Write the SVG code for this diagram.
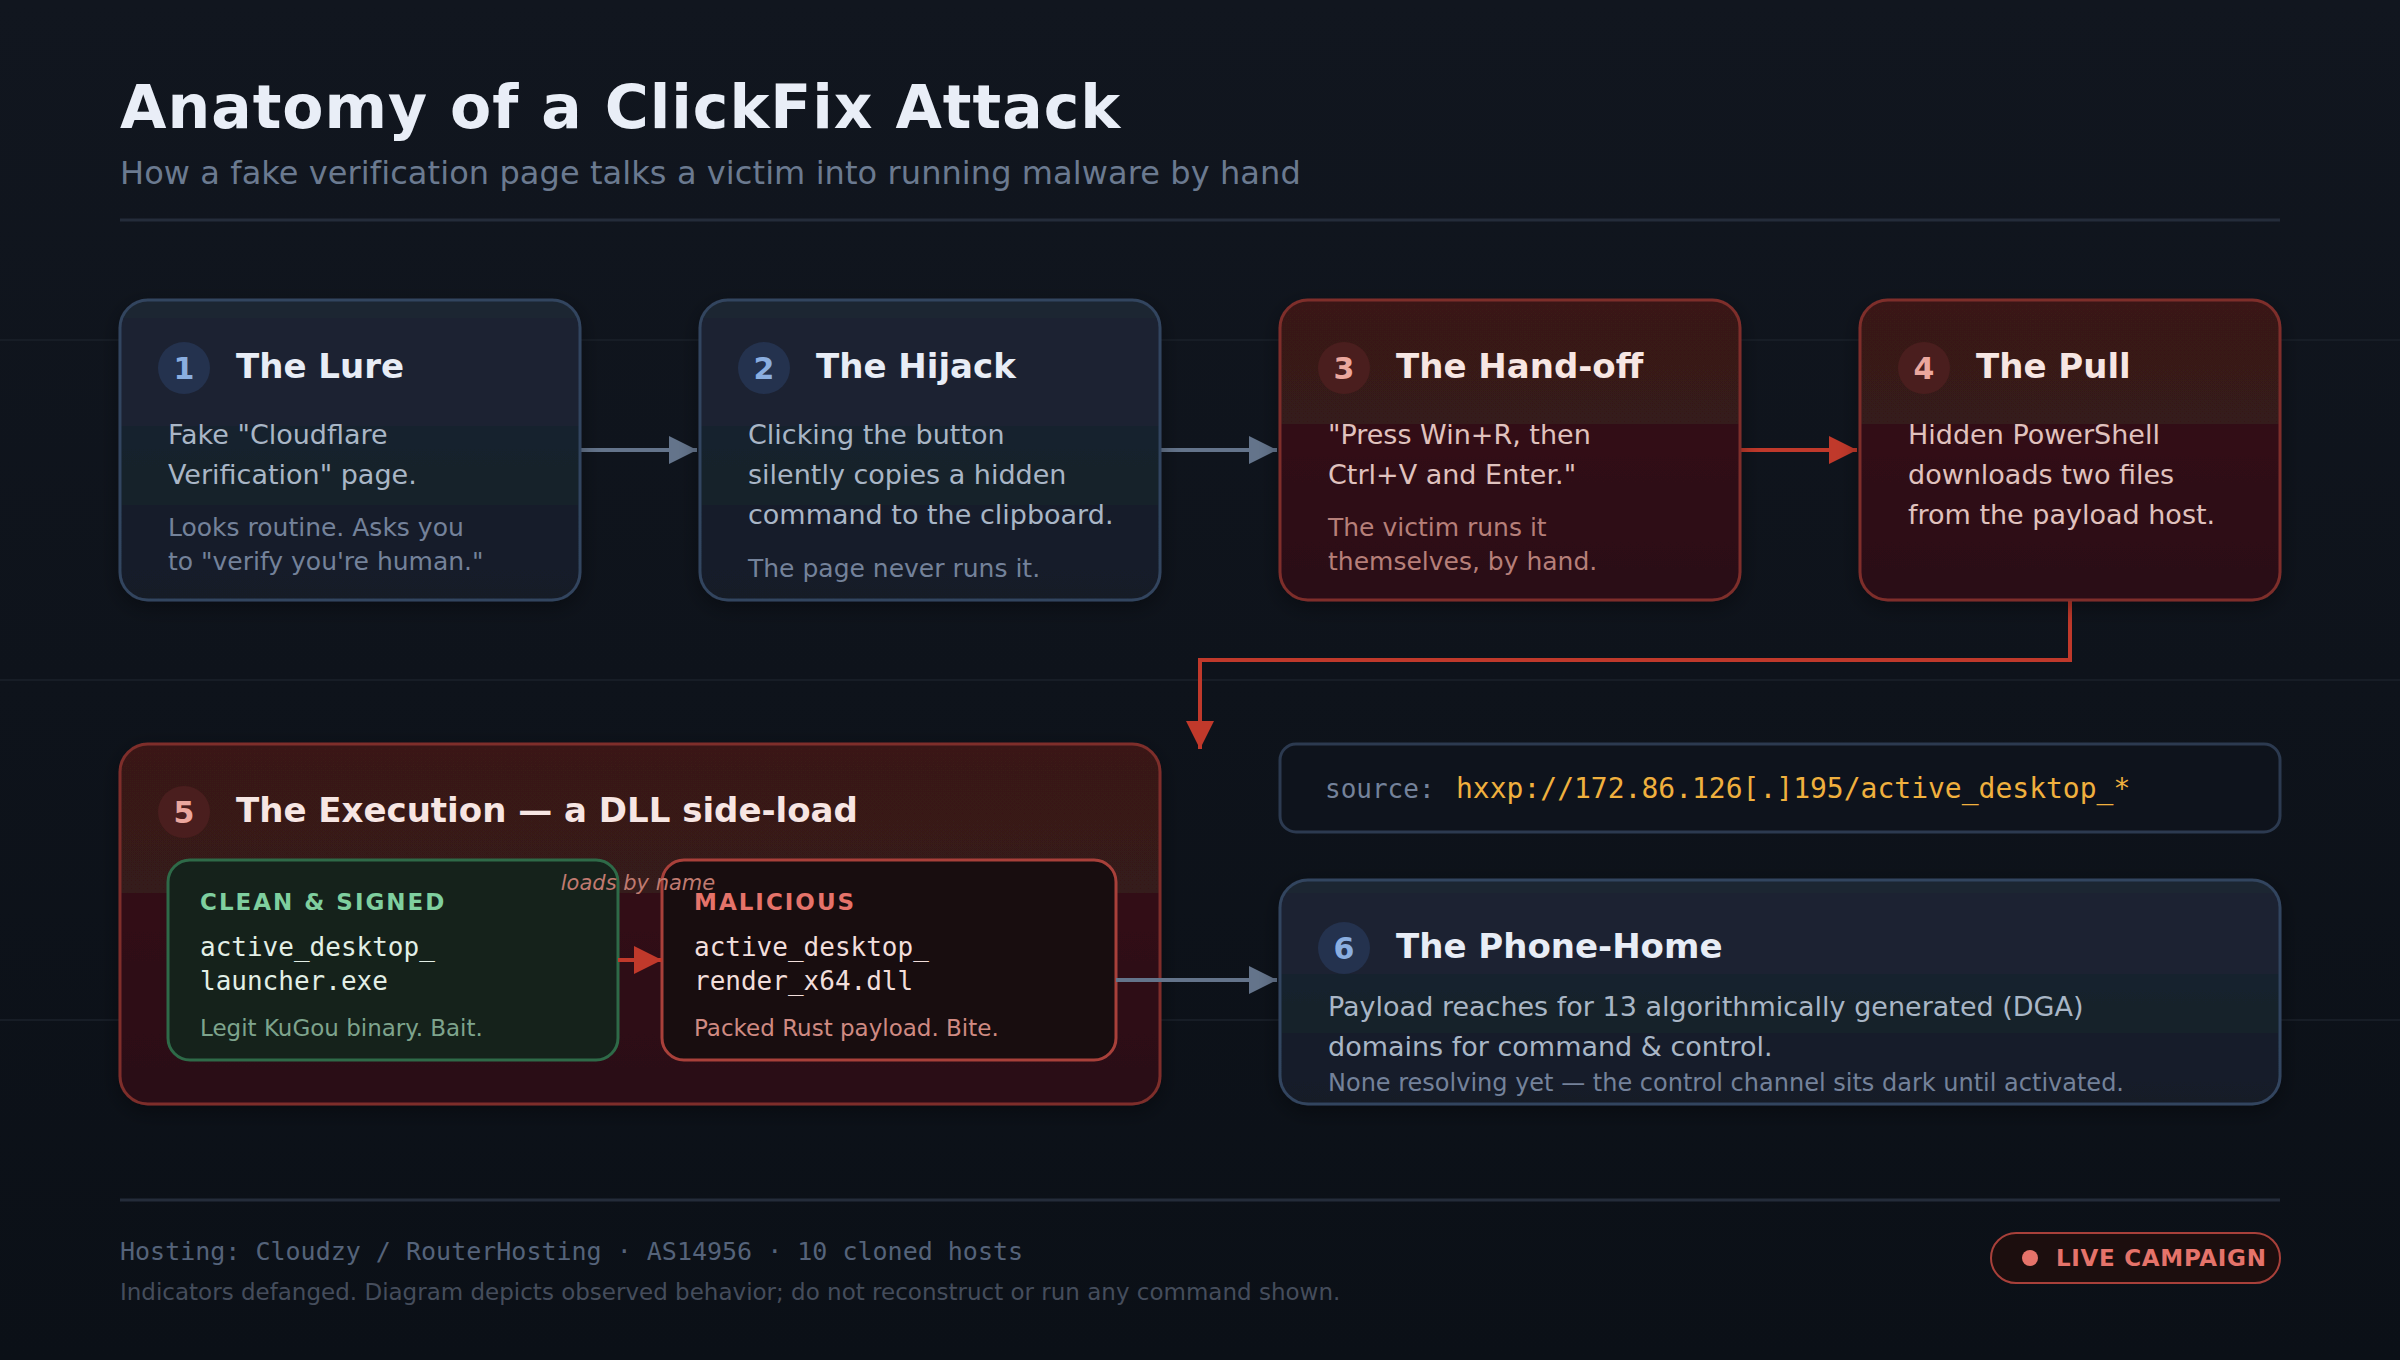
<svg xmlns="http://www.w3.org/2000/svg" width="2400" height="1360" viewBox="0 0 2400 1360">
<defs>
<linearGradient id="bg" x1="0" y1="0" x2="0" y2="1"><stop offset="0" stop-color="#11161f"/><stop offset="1" stop-color="#0b1017"/></linearGradient>
<linearGradient id="blue" x1="0" y1="0" x2="0" y2="1">
<stop offset="0" stop-color="#1c2732"/><stop offset="0.06" stop-color="#1c2632"/><stop offset="0.06" stop-color="#1c2233"/><stop offset="0.42" stop-color="#1c2231"/><stop offset="0.42" stop-color="#17212e"/><stop offset="0.685" stop-color="#15212a"/><stop offset="0.685" stop-color="#161c2b"/><stop offset="1" stop-color="#161b28"/></linearGradient>
<linearGradient id="red" x1="0" y1="0" x2="0" y2="1">
<stop offset="0" stop-color="#3a1918"/><stop offset="0.415" stop-color="#351a1a"/><stop offset="0.415" stop-color="#310e16"/><stop offset="1" stop-color="#2b0e15"/></linearGradient>
<filter id="sh" x="-10%" y="-10%" width="120%" height="125%"><feDropShadow dx="0" dy="6" stdDeviation="10" flood-color="#000" flood-opacity="0.35"/></filter>
<marker id="ag" markerUnits="userSpaceOnUse" markerWidth="28" markerHeight="28" refX="28" refY="14" orient="auto"><path d="M0 0L28 14L0 28Z" fill="#64748b"/></marker>
<marker id="ar" markerUnits="userSpaceOnUse" markerWidth="28" markerHeight="28" refX="28" refY="14" orient="auto"><path d="M0 0L28 14L0 28Z" fill="#c0392b"/></marker>
</defs>
<style>
text{font-family:"DejaVu Sans","Liberation Sans",sans-serif}
.mono{font-family:"DejaVu Sans Mono","Liberation Mono",monospace}
.card{stroke-width:3;filter:url(#sh)}
.b{fill:url(#blue);stroke:#33445e}
.r{fill:url(#red);stroke:#7e2e2c}
.nb{fill:#24324e}.nr{fill:#4a1e1e}
.num{font-size:30px;font-weight:700;text-anchor:middle}
.numb{fill:#8aaee0}.numr{fill:#eba79e}
.tb{font-size:34px;font-weight:700;fill:#e8edf6}
.tr{font-size:34px;font-weight:700;fill:#f7e6e3}
.body{font-size:27px;fill:#a9b6c6}
.bodyr{font-size:27px;fill:#e0c2be}
.note{font-size:25px;fill:#74829a}
.noter{font-size:25px;fill:#b67f79}
.conn{fill:none;stroke-width:4}
.lab{font-size:23px;font-weight:700;letter-spacing:2px}
.file{font-size:26px}
.sm{font-size:23px}
</style>
<rect id="background" width="2400" height="1360" fill="url(#bg)"/>
<g id="grid" stroke="#171d26" stroke-width="2"><path d="M0 340H2400M0 680H2400M0 1020H2400"/></g>
<g id="header">
<text x="120" y="128" font-size="60" font-weight="700" fill="#e9eef7" letter-spacing="1">Anatomy of a ClickFix Attack</text>
<text x="120" y="184" font-size="32" fill="#6b7a90" letter-spacing="0.085">How a fake verification page talks a victim into running malware by hand</text>
<rect x="120" y="218.500" width="2160" height="3" fill="#242c3a"/>
</g>
<g id="connectors">
<path class="conn" stroke="#64748b" marker-end="url(#ag)" d="M580 450H697"/>
<path class="conn" stroke="#64748b" marker-end="url(#ag)" d="M1160 450H1277"/>
<path class="conn" stroke="#c0392b" marker-end="url(#ar)" d="M1740 450H1857"/>
<path class="conn" stroke="#c0392b" marker-end="url(#ar)" d="M2070 600V660H1200V749"/>
</g>
<g id="node-1">
<rect class="card b" x="120" y="300" width="460" height="300" rx="28"/>
<circle class="nb" cx="184" cy="368" r="26"/><text class="num numb" x="184" y="379">1</text>
<text class="tb" x="236" y="378">The Lure</text>
<text class="body" x="168" y="444">Fake "Cloudflare</text><text class="body" x="168" y="484">Verification" page.</text>
<text class="note" x="168" y="536">Looks routine. Asks you</text><text class="note" x="168" y="570">to "verify you're human."</text>
</g>
<g id="node-2">
<rect class="card b" x="700" y="300" width="460" height="300" rx="28"/>
<circle class="nb" cx="764" cy="368" r="26"/><text class="num numb" x="764" y="379">2</text>
<text class="tb" x="816" y="378">The Hijack</text>
<text class="body" x="748" y="444">Clicking the button</text><text class="body" x="748" y="484">silently copies a hidden</text><text class="body" x="748" y="524">command to the clipboard.</text>
<text class="note" x="748" y="577">The page never runs it.</text>
</g>
<g id="node-3">
<rect class="card r" x="1280" y="300" width="460" height="300" rx="28"/>
<circle class="nr" cx="1344" cy="368" r="26"/><text class="num numr" x="1344" y="379">3</text>
<text class="tr" x="1396" y="378">The Hand-off</text>
<text class="bodyr" x="1328" y="444">"Press Win+R, then</text><text class="bodyr" x="1328" y="484">Ctrl+V and Enter."</text>
<text class="noter" x="1328" y="536">The victim runs it</text><text class="noter" x="1328" y="570">themselves, by hand.</text>
</g>
<g id="node-4">
<rect class="card r" x="1860" y="300" width="420" height="300" rx="28"/>
<circle class="nr" cx="1924" cy="368" r="26"/><text class="num numr" x="1924" y="379">4</text>
<text class="tr" x="1976" y="378">The Pull</text>
<text class="bodyr" x="1908" y="444">Hidden PowerShell</text><text class="bodyr" x="1908" y="484">downloads two files</text><text class="bodyr" x="1908" y="524">from the payload host.</text>
</g>
<g id="node-5">
<rect class="card r" x="120" y="744" width="1040" height="360" rx="28"/>
<circle class="nr" cx="184" cy="812" r="26"/><text class="num numr" x="184" y="823">5</text>
<text class="tr" x="236" y="822">The Execution — a DLL side-load</text>
<g id="node-5a">
<rect x="168" y="860" width="450" height="200" rx="22" fill="#15221b" stroke="#2e6a48" stroke-width="3"/>
<text class="lab" x="200" y="910" fill="#7fcf9f">CLEAN &amp; SIGNED</text>
<text class="mono file" x="200" y="956" fill="#e2efe6">active_desktop_</text><text class="mono file" x="200" y="990" fill="#e2efe6">launcher.exe</text>
<text class="sm" x="200" y="1036" fill="#7ea48d">Legit KuGou binary. Bait.</text>
</g>
<g id="node-5b">
<rect x="662" y="860" width="454" height="200" rx="22" fill="#180d0f" stroke="#a8403a" stroke-width="3"/>
<text class="lab" x="694" y="910" fill="#e5736a">MALICIOUS</text>
<text class="mono file" x="694" y="956" fill="#f2dedb">active_desktop_</text><text class="mono file" x="694" y="990" fill="#f2dedb">render_x64.dll</text>
<text class="sm" x="694" y="1036" fill="#cf8a82">Packed Rust payload. Bite.</text>
</g>
</g>
<g id="connectors-inner">
<path class="conn" stroke="#c0392b" marker-end="url(#ar)" d="M618 960H662"/>
<text x="638" y="890" font-size="21" font-style="italic" fill="#c07a70" text-anchor="middle">loads by name</text>
<path class="conn" stroke="#64748b" marker-end="url(#ag)" d="M1116 980H1277"/>
</g>
<g id="source">
<rect x="1280" y="744" width="1000" height="88" rx="16" fill="#0e131c" stroke="#2c3a50" stroke-width="3"/>
<text class="mono" x="1325" y="798" font-size="26" fill="#74829a">source:</text>
<text class="mono" x="1456" y="798" font-size="28" fill="#f0b03e">hxxp://172.86.126[.]195/active_desktop_*</text>
</g>
<g id="node-6">
<rect class="card b" x="1280" y="880" width="1000" height="224" rx="28"/>
<circle class="nb" cx="1344" cy="948" r="26"/><text class="num numb" x="1344" y="959">6</text>
<text class="tb" x="1396" y="958">The Phone-Home</text>
<text class="body" x="1328" y="1016">Payload reaches for 13 algorithmically generated (DGA)</text><text class="body" x="1328" y="1056">domains for command &amp; control.</text>
<text class="note" style="font-size:24px" x="1328" y="1091">None resolving yet — the control channel sits dark until activated.</text>
</g>
<g id="footer">
<rect x="120" y="1198.500" width="2160" height="3" fill="#242c3a"/>
<text class="mono" x="120" y="1260" font-size="25" fill="#55637a">Hosting: Cloudzy / RouterHosting · AS14956 · 10 cloned hosts</text>
<text x="120" y="1300" font-size="23" fill="#454d5c">Indicators defanged. Diagram depicts observed behavior; do not reconstruct or run any command shown.</text>
<g id="badge">
<rect x="1991" y="1233" width="289" height="50" rx="25" fill="#1c0e0e" stroke="#a8403a" stroke-width="2"/>
<circle cx="2030" cy="1258" r="8" fill="#e5736a"/>
<text x="2056" y="1266" font-size="23" font-weight="700" fill="#e5736a" letter-spacing="0.7">LIVE CAMPAIGN</text>
</g>
</g>
</svg>
